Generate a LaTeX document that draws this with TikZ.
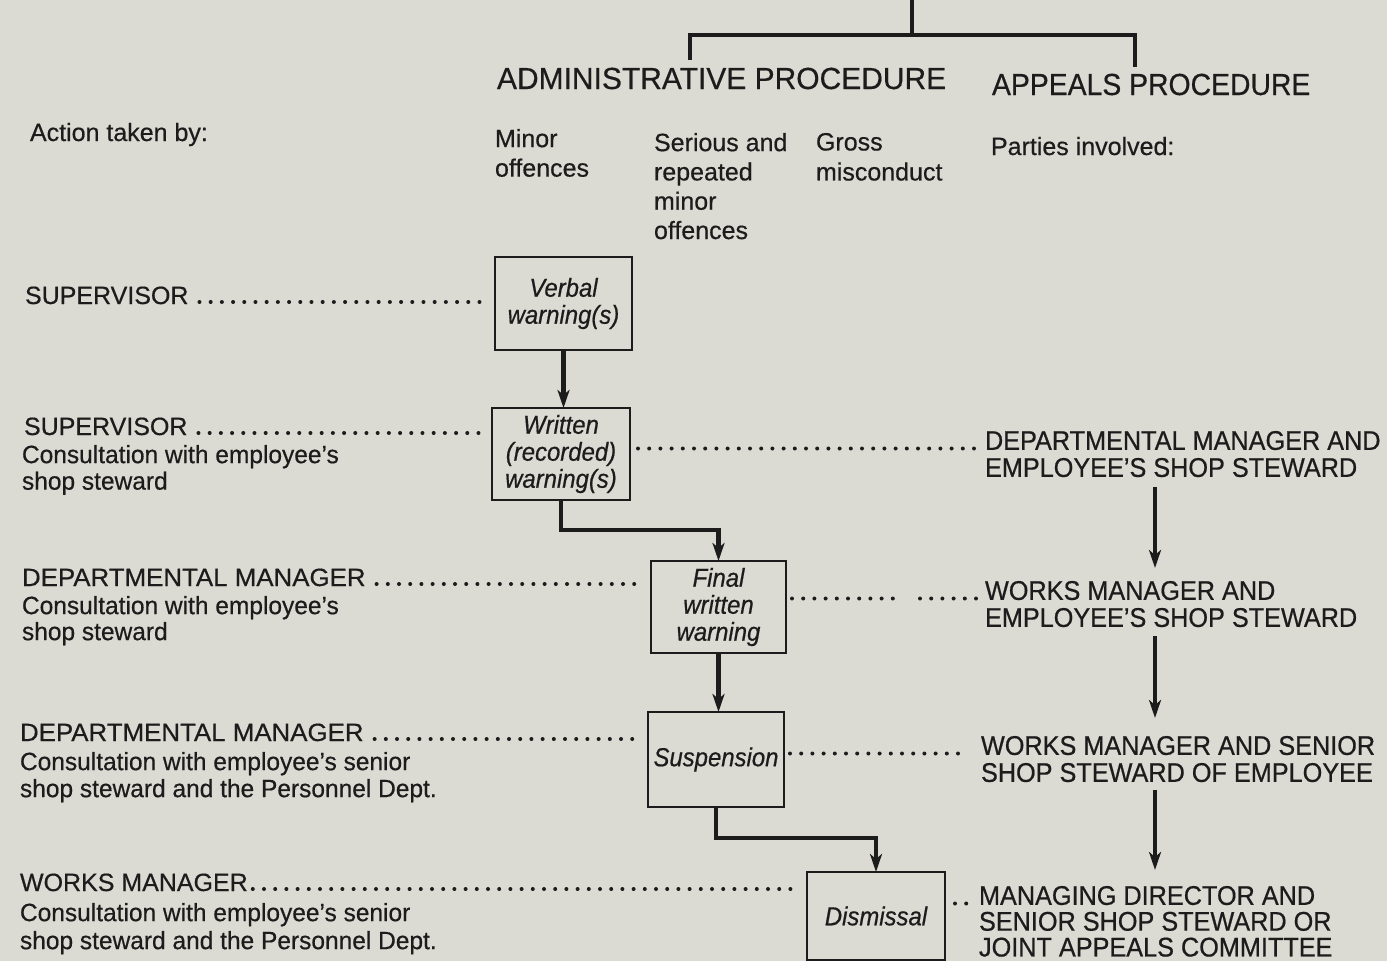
\documentclass[tikz,border=0pt]{standalone}
\usepackage{fontspec}
\setmainfont{Liberation Sans}
\newfontfamily\labfam[FakeStretch=1.0,FakeBold=0.5]{Liberation Sans}
\newfontfamily\labwfam[FakeStretch=1.035,FakeBold=0.5]{Liberation Sans}
\newfontfamily\subfam[FakeStretch=0.98,FakeBold=0.5]{Liberation Sans}
\newfontfamily\hdfam[FakeStretch=0.983,FakeBold=0.5]{Liberation Sans}
\newfontfamily\hdbfam[FakeStretch=0.93,FakeBold=0.5]{Liberation Sans}
\newfontfamily\apfam[FakeStretch=0.935,FakeBold=0.6]{Liberation Sans}
\newfontfamily\boxfam[FakeStretch=0.92,FakeBold=0.6]{Liberation Sans}
\usetikzlibrary{arrows.meta}
\definecolor{paper}{RGB}{220,219,211}
\definecolor{ink}{RGB}{28,28,28}
\begin{document}
\begin{tikzpicture}[x=1pt,y=-1pt,
  every node/.style={inner sep=0pt, outer sep=0pt, text=ink},
  lab/.style={anchor=base west, font=\labfam\fontsize{25}{27}\selectfont},
  labw/.style={anchor=base west, font=\labwfam\fontsize{25}{27}\selectfont},
  sub/.style={anchor=north west, align=left},
  col/.style={anchor=north west, align=left},
  hd/.style={anchor=base west, font=\hdfam\fontsize{30.5}{33}\selectfont},
  ap/.style={anchor=north west, align=left, font=\apfam\fontsize{27}{27}\selectfont},
  box/.style={draw=ink, line width=2.6pt, minimum width=137pt, minimum height=92pt,
    align=center, font=\boxfam\itshape\fontsize{26}{27}\selectfont},
  flow/.style={draw=ink, line width=4.4pt, line join=miter,
    -{Stealth[length=18pt,width=12pt,inset=5pt]}},
  rflow/.style={draw=ink, line width=3.8pt,
    -{Stealth[length=18pt,width=12pt,inset=5pt]}},
  tree/.style={draw=ink, line width=4pt, line join=miter},
  dots/.style={draw=ink, line width=4pt, line cap=round, dash pattern=on 0pt off 11.2pt}
]
\fill[paper] (0,0) rectangle (1387,961);
\useasboundingbox (0,0) rectangle (1387,961);

% top tree
\coordinate (treetop) at (912,0);
\coordinate (treejoin) at (912,35);
\coordinate (tl) at (690,35);
\coordinate (tr) at (1135,35);
\draw[tree] (treetop) -- (treejoin);
\draw[tree] ([yshift=-25pt]tl) -- (tl) -- (tr) -- ([yshift=-32pt]tr);

% headers
\node[hd] (admin) at (497,89) {ADMINISTRATIVE PROCEDURE};
\node[hd, font=\hdbfam\fontsize{30.5}{33}\selectfont] (appeals) at (992,95) {APPEALS PROCEDURE};

% column heads
\node[lab] (action) at (30,141) {Action taken by:};
\node[col, font=\labfam\fontsize{25}{29.5}\selectfont] (minor) at (495,129) {Minor\\offences};
\node[col, font=\labfam\fontsize{25}{29.3}\selectfont] (serious) at (654,133) {Serious and\\repeated\\minor\\offences};
\node[col, font=\labfam\fontsize{25}{30}\selectfont] (gross) at (816,133) {Gross\\misconduct};
\node[lab] (parties) at (991,155) {Parties involved:};

% left labels
\node[lab] (sup1) at (25,304) {SUPERVISOR};
\node[lab] (sup2) at (24,435) {SUPERVISOR};
\node[sub, font=\subfam\fontsize{25}{26.5}\selectfont] (sup2c) at (22,445) {Consultation with employee’s\\shop steward};
\node[labw] (dm1) at (22,586) {DEPARTMENTAL MANAGER};
\node[sub, font=\subfam\fontsize{25}{26}\selectfont] (dm1c) at (22,596) {Consultation with employee’s\\shop steward};
\node[labw] (dm2) at (20,741) {DEPARTMENTAL MANAGER};
\node[sub, font=\subfam\fontsize{25}{27}\selectfont] (dm2c) at (20,752) {Consultation with employee’s senior\\shop steward and the Personnel Dept.};
\node[lab] (wm) at (20,891) {WORKS MANAGER};
\node[sub, font=\subfam\fontsize{25}{28}\selectfont] (wmc) at (20,903) {Consultation with employee’s senior\\shop steward and the Personnel Dept.};

% boxes
\node[box, minimum height=93pt] (verbal) at (563.5,303.5) {Verbal\\warning(s)};
\node[box, minimum width=138pt] (written) at (561,454) {Written\\(recorded)\\warning(s)};
\node[box, minimum width=135pt] (final) at (718.5,607) {Final\\written\\warning};
\node[box, minimum width=136pt, minimum height=95pt] (susp) at (716,759.5) {Suspension};
\node[box, minimum width=138pt, minimum height=88pt] (dism) at (876,916) {Dismissal};

% appeals parties
\node[ap] (ap1) at (985,431) {DEPARTMENTAL MANAGER AND\\EMPLOYEE’S SHOP STEWARD};
\node[ap] (ap2) at (985,581) {WORKS MANAGER AND\\EMPLOYEE’S SHOP STEWARD};
\node[ap] (ap3) at (981,736) {WORKS MANAGER AND SENIOR\\SHOP STEWARD OF EMPLOYEE};
\node[ap, font=\apfam\fontsize{27}{25.8}\selectfont] (ap4) at (979,886) {MANAGING DIRECTOR AND\\SENIOR SHOP STEWARD OR\\JOINT APPEALS COMMITTEE};

% flow connectors
\draw[flow] (verbal.south) -- (verbal.south |- written.north);
\draw[flow] (written.south) -- ++(0,30) -| (final.north);
\draw[flow] (final.south) -- (final.south |- susp.north);
\draw[flow] (susp.south) -- ++(0,31) -| (dism.north);

% appeals arrows
\coordinate (ax) at (1155,0);
\draw[rflow] ([yshift=-10pt]ap1.south -| ax) -- ([yshift=13pt]ap2.north -| ax);
\draw[rflow] ([yshift=-9pt]ap2.south -| ax) -- ([yshift=18pt]ap3.north -| ax);
\draw[rflow] ([yshift=-8pt]ap3.south -| ax) -- ([yshift=16pt]ap4.north -| ax);

% left leaders
\draw[dots] ([xshift=11pt,yshift=2pt]sup1.base east) -- ([xshift=-7pt,yshift=2pt]sup1.base east -| verbal.west);
\draw[dots] ([xshift=11pt,yshift=2pt]sup2.base east) -- ([xshift=-6pt,yshift=2pt]sup2.base east -| written.west);
\draw[dots] ([xshift=11pt,yshift=2pt]dm1.base east) -- ([xshift=-6pt,yshift=2pt]dm1.base east -| final.west);
\draw[dots] ([xshift=11pt,yshift=2pt]dm2.base east) -- ([xshift=-6pt,yshift=2pt]dm2.base east -| susp.west);
\draw[dots] ([xshift=5pt,yshift=2pt]wm.base east) -- ([xshift=-6pt,yshift=2pt]wm.base east -| dism.west);

% right leaders
\coordinate (l1) at ([yshift=-17.5pt]ap1.north west);
\coordinate (l2) at ([yshift=-17.5pt]ap2.north west);
\coordinate (l3) at ([yshift=-17.5pt]ap3.north west);
\coordinate (l4) at ([yshift=-17.5pt]ap4.north west);
\draw[dots] ([xshift=8pt]written.east |- l1) -- ([xshift=-4pt]l1);
\draw[dots] ([xshift=6pt]final.east |- l2) -- ([xshift=111pt]final.east |- l2);
\draw[dots] ([xshift=-65pt]l2) -- ([xshift=-4pt]l2);
\draw[dots] ([xshift=6pt]susp.east |- l3) -- ([xshift=-13pt]l3);
\draw[dots] ([xshift=10pt]dism.east |- l4) -- ([xshift=-8pt]l4);
\end{tikzpicture}
\end{document}
